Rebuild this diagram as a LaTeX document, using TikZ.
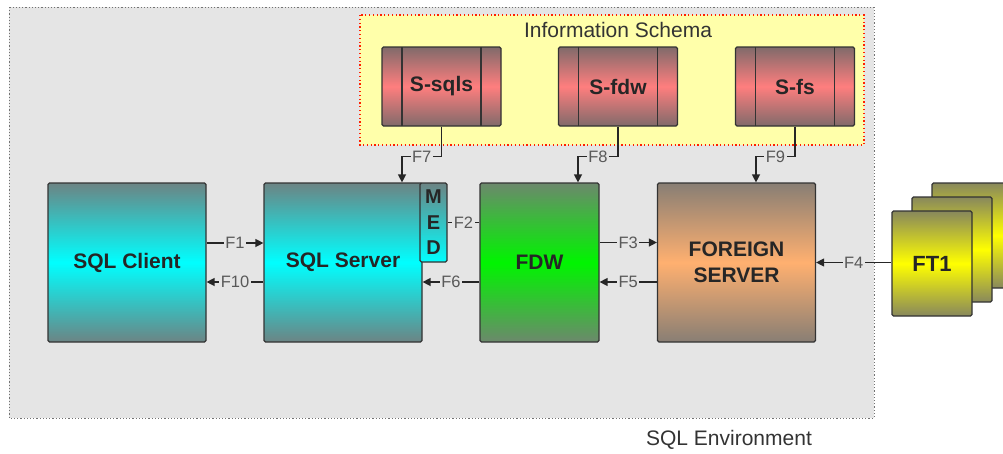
\documentclass[tikz,border=0pt]{standalone}
\usepackage{fontspec}
\setmainfont{Liberation Sans}
\usetikzlibrary{arrows,arrows.meta}

\definecolor{envgray}{gray}{0.9}
\definecolor{schemayellow}{RGB}{255,255,170}
\definecolor{cyantop}{RGB}{108,132,132}
\definecolor{greentop}{RGB}{108,136,108}
\definecolor{greenmid}{RGB}{0,245,0}
\definecolor{orangetop}{RGB}{136,126,116}
\definecolor{orangemid}{RGB}{255,176,112}
\definecolor{yellowtop}{RGB}{136,136,92}
\definecolor{redtop}{RGB}{128,106,106}
\definecolor{redmid}{RGB}{255,126,126}

\tikzset{
  unit/.style={draw=black!80, line width=1.2pt, rounded corners=1.5pt, inner sep=0pt,
    text=black!85, font=\fontsize{21}{26}\selectfont\bfseries, align=center},
  mainbox/.style={unit, minimum width=158pt, minimum height=159pt},
  cyanbox/.style={mainbox, top color=cyantop, bottom color=cyantop, middle color=cyan},
  greenbox/.style={mainbox, top color=greentop, bottom color=greentop, middle color=greenmid},
  orangebox/.style={mainbox, top color=orangetop, bottom color=orangetop, middle color=orangemid},
  medbox/.style={unit, minimum width=27pt, minimum height=79pt, font=\fontsize{20}{25.5}\selectfont\bfseries,
    top color=cyantop, bottom color=cyan},
  ftbox/.style={unit, minimum width=80pt, minimum height=105pt, font=\fontsize{22}{26}\selectfont\bfseries,
    top color=yellowtop, bottom color=yellowtop, middle color=yellow},
  schemabox/.style={unit, minimum width=119pt, minimum height=79pt,
    top color=redtop, bottom color=redtop, middle color=redmid,
    path picture={\draw[line width=1.2pt, black!80]
      ([xshift=20pt]path picture bounding box.north west) -- ([xshift=20pt]path picture bounding box.south west)
      ([xshift=-20pt]path picture bounding box.north east) -- ([xshift=-20pt]path picture bounding box.south east);}},
  envframe/.style={fill=envgray, draw=black!55, line width=1pt, dash pattern=on 1.2pt off 2pt},
  schemaframe/.style={fill=schemayellow, draw=red!75!orange, line width=1.2pt, dash pattern=on 1.2pt off 2.6pt},
  envtext/.style={text=black!80, font=\fontsize{21}{25}\selectfont},
  flowlabel/.style={fill=envgray, inner sep=1.5pt, text=black!65, font=\fontsize{16.5}{18}\selectfont},
  flow/.style={draw=black!85, line width=1.3pt}
}

\begin{document}
\begin{tikzpicture}[x=1pt,y=-1pt,>={Triangle[length=8pt,width=8pt]}]
  \useasboundingbox (0,0) rectangle (1003,453);

  % SQL environment
  \draw[envframe] (9,7) rectangle (874,418);
  \node[envtext] (envname) at (729,440) {SQL Environment};

  % Information schema
  \draw[schemaframe] (360,15) rectangle (864,145);
  \node[envtext] (schemaname) at (618,30) {Information Schema};
  \node[schemabox] (ssqls) at (441.5,86.5) {S-sqls};
  \node[schemabox] (sfdw) at (618,86.5) {S-fdw};
  \node[schemabox] (sfs) at (795,86.5) {S-fs};

  % Main units
  \node[cyanbox] (client) at (127,262.5) {SQL Client};
  \node[cyanbox] (server) at (343,262.5) {SQL Server};
  \node[medbox] (med) at (433.5,222.5) {M\\E\\D};
  \node[greenbox, minimum width=119pt] (fdw) at (539.5,262.5) {FDW};
  \node[orangebox] (fserver) at (736.5,262.5) {FOREIGN\\SERVER};

  % Foreign tables
  \node[ftbox] (ft3) at (972,235.5) {};
  \node[ftbox] (ft2) at (952,249.5) {};
  \node[ftbox] (ft1) at (932,263.5) {FT1};

  % Flows
  \draw[flow,->] ([yshift=19.5pt]client.east) -- node[flowlabel] {F1} ([yshift=19.5pt]server.west);
  \draw[flow,<-] ([yshift=-19.5pt]client.east) -- node[flowlabel] {F10} ([yshift=-19.5pt]server.west);
  \draw[flow] (med.east) -- node[flowlabel] {F2} (fdw.west |- med.east);
  \draw[flow,<-] ([yshift=-19.5pt]server.east) -- node[flowlabel] {F6} ([yshift=-19.5pt]fdw.west);
  \draw[flow,->] ([yshift=20pt]fdw.east) -- node[flowlabel] {F3} ([yshift=20pt]fserver.west);
  \draw[flow,<-] ([yshift=-19.5pt]fdw.east) -- node[flowlabel] {F5} ([yshift=-19.5pt]fserver.west);
  \draw[flow,<-] (fserver.east) -- node[flowlabel] {F4} (fserver.east -| ft1.west);

  % Schema flows
  \draw[flow,->] (ssqls.south) -- ++(0,30) -| node[flowlabel, pos=0.25] {F7} ([xshift=59pt]server.north);
  \draw[flow,->] (sfdw.south) -- ++(0,30) -| node[flowlabel, pos=0.25] {F8} ([xshift=38.5pt]fdw.north);
  \draw[flow,->] (sfs.south) -- ++(0,30) -| node[flowlabel, pos=0.25] {F9} ([xshift=19.5pt]fserver.north);
\end{tikzpicture}
\end{document}
